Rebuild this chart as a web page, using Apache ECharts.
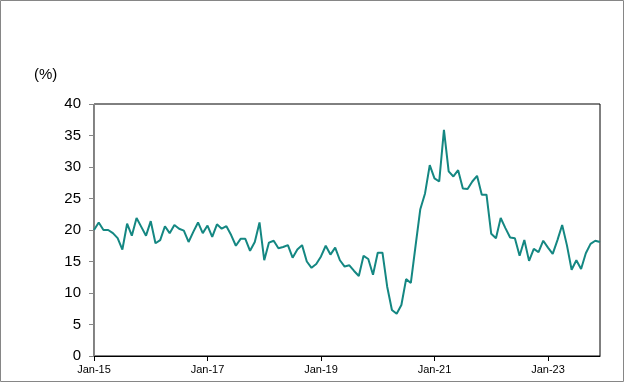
<!DOCTYPE html>
<html>
<head>
<meta charset="utf-8">
<script src="https://cdn.jsdelivr.net/npm/echarts@6/dist/echarts.min.js"></script>
<style>
html,body{margin:0;padding:0;background:#fff;}
#c{width:624px;height:382px;}
</style>
</head>
<body>
<div id="c"></div>
<script>
const monthNames = ['Jan','Feb','Mar','Apr','May','Jun','Jul','Aug','Sep','Oct','Nov','Dec'];
const years = ['15','16','17','18','19','20','21','22','23'];
const yTicks = [0, 5, 10, 15, 20, 25, 30, 35, 40];
const rateValues = [
  20.0, 21.2, 20.0, 20.0, 19.5, 18.7, 16.9, 21.0, 19.1, 21.9, 20.5, 19.1,
  21.4, 17.9, 18.4, 20.6, 19.5, 20.8, 20.2, 19.9, 18.1, 19.7, 21.2, 19.5,
  20.7, 18.9, 20.9, 20.2, 20.6, 19.2, 17.5, 18.6, 18.6, 16.7, 18.1, 21.2,
  15.2, 18.0, 18.3, 17.1, 17.3, 17.6, 15.6, 16.9, 17.6, 15.0, 14.0, 14.6,
  15.8, 17.5, 16.1, 17.2, 15.2, 14.2, 14.4, 13.5, 12.7, 15.9, 15.4, 12.9,
  16.4, 16.4, 11.0, 7.3, 6.7, 8.1, 12.2, 11.6, 17.5, 23.3, 25.8, 30.3,
  28.2, 27.7, 35.9, 29.3, 28.5, 29.5, 26.6, 26.5, 27.7, 28.6, 25.6, 25.6,
  19.4, 18.7, 21.9, 20.3, 18.8, 18.7, 15.9, 18.4, 15.1, 17.0, 16.5, 18.3,
  17.2, 16.2, 18.4, 20.8, 17.6, 13.7, 15.2, 13.8, 16.3, 17.8, 18.3, 18.1
];
const categories = [];
years.forEach(y => monthNames.forEach(m => categories.push(m + '-' + y)));

const chart = echarts.init(document.getElementById('c'), null, {renderer: 'canvas'});
chart.setOption({
  animation: false,
  backgroundColor: '#fff',
  grid: {left: 94, right: 24, top: 104, bottom: 26, show: true, borderColor: '#000', borderWidth: 1},
  graphic: [
    {type: 'rect', shape: {x: 0.5, y: 0.5, width: 623, height: 381}, style: {fill: 'none', stroke: '#868686', lineWidth: 1}, silent: true},
    {type: 'text', left: 34, top: 67, style: {text: '(%)', font: '15px "Liberation Sans", Arial, sans-serif', fill: '#000'}}
  ],
  xAxis: {
    type: 'category',
    data: categories,
    boundaryGap: false,
    axisLine: {lineStyle: {color: '#000', width: 1}},
    axisTick: {show: true, interval: 23, length: 5, lineStyle: {color: '#000'}},
    axisLabel: {interval: 23, color: '#000', fontSize: 11, fontFamily: '"Liberation Sans", Arial, sans-serif', margin: 8},
    splitLine: {show: false}
  },
  yAxis: {
    type: 'value',
    min: yTicks[0],
    max: yTicks[yTicks.length - 1],
    interval: 5,
    axisLine: {show: true, lineStyle: {color: '#868686', width: 1}},
    axisTick: {show: true, length: 5, lineStyle: {color: '#868686'}},
    axisLabel: {color: '#000', fontSize: 15, fontFamily: '"Liberation Sans", Arial, sans-serif', margin: 13},
    splitLine: {show: false}
  },
  series: [{
    type: 'line',
    data: rateValues,
    symbol: 'none',
    lineStyle: {color: '#148782', width: 2},
    itemStyle: {color: '#148782'}
  }]
});
</script>
</body>
</html>
